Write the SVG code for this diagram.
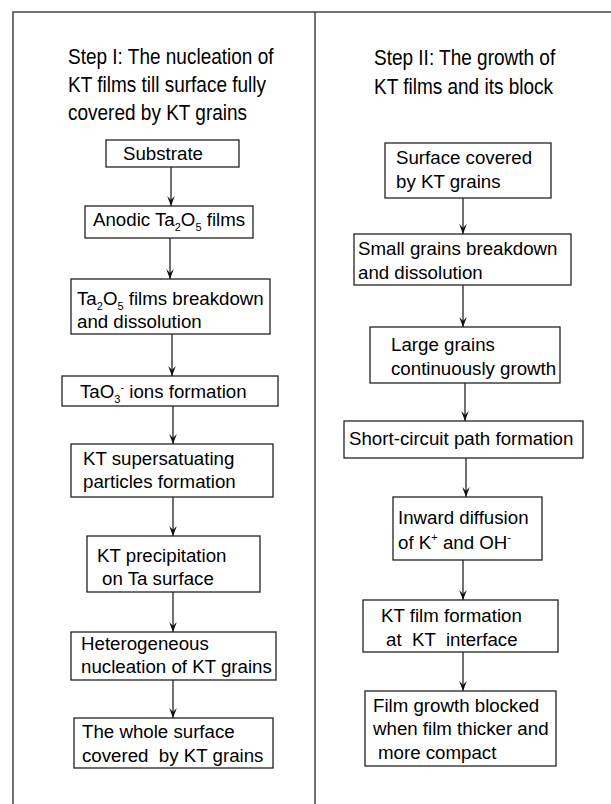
<svg xmlns="http://www.w3.org/2000/svg" width="611" height="804" viewBox="0 0 611 804">
<defs>
<style>
text{font-family:"Liberation Sans",Arial,sans-serif;fill:#000;white-space:pre}
.t{font-size:19px}
.b{font-size:18.7px}
.s{font-size:11px}
rect{fill:#fff;stroke:#222;stroke-width:1.3}
.frame{stroke:#444;stroke-width:1.5;fill:none}
.c line{stroke:#111;stroke-width:1.2}
</style>
<marker id="ah" viewBox="-11 -5 12 10" markerWidth="12" markerHeight="10" refX="0" refY="0" orient="auto" markerUnits="userSpaceOnUse">
<path d="M0,0 L-10,-3.8 L-6,0 L-10,3.8 Z" fill="#111"/>
</marker>
</defs>
<rect width="611" height="804" style="fill:#fff;stroke:none"/>
<g id="frame">
<path class="frame" d="M13,804 V12 H611 M315,12 V804"/>
</g>
<g id="title1">
<text class="t" transform="translate(68,64) scale(1,1.14)">Step I: The nucleation of</text>
<text class="t" transform="translate(68,92) scale(1,1.14)">KT films till surface fully</text>
<text class="t" transform="translate(68,120) scale(1,1.14)">covered by KT grains</text>
</g>
<g id="title2">
<text class="t" transform="translate(374,65) scale(1,1.14)">Step II: The growth of</text>
<text class="t" transform="translate(374,94) scale(1,1.14)">KT films and its block</text>
</g>
<g class="c" id="connectors">
<line x1="171" y1="167" x2="171" y2="206" marker-end="url(#ah)"/>
<line x1="170" y1="238" x2="170" y2="279" marker-end="url(#ah)"/>
<line x1="172" y1="334" x2="172" y2="376" marker-end="url(#ah)"/>
<line x1="173" y1="406" x2="173" y2="444" marker-end="url(#ah)"/>
<line x1="173" y1="497" x2="173" y2="536" marker-end="url(#ah)"/>
<line x1="173" y1="592" x2="173" y2="632" marker-end="url(#ah)"/>
<line x1="173" y1="680" x2="173" y2="718" marker-end="url(#ah)"/>
<line x1="463" y1="198" x2="463" y2="234" marker-end="url(#ah)"/>
<line x1="463" y1="285" x2="463" y2="327" marker-end="url(#ah)"/>
<line x1="465" y1="383" x2="465" y2="421" marker-end="url(#ah)"/>
<line x1="466" y1="458" x2="466" y2="497" marker-end="url(#ah)"/>
<line x1="463" y1="560" x2="463" y2="600" marker-end="url(#ah)"/>
<line x1="463" y1="652" x2="463" y2="691" marker-end="url(#ah)"/>
</g>
<g id="n1">
<rect x="106" y="140" width="133" height="27"/>
<text class="b" x="123" y="160">Substrate</text>
</g>
<g id="n2">
<rect x="85" y="206" width="168" height="32"/>
<text class="b" x="93" y="226">Anodic Ta<tspan class="s" dy="5">2</tspan><tspan dy="-5">O</tspan><tspan class="s" dy="5">5</tspan><tspan dy="-5"> films</tspan></text>
</g>
<g id="n3">
<rect x="71" y="279" width="199" height="55"/>
<text class="b" x="77" y="305">Ta<tspan class="s" dy="5">2</tspan><tspan dy="-5">O</tspan><tspan class="s" dy="5">5</tspan><tspan dy="-5"> films breakdown</tspan></text>
<text class="b" x="77" y="328">and dissolution</text>
</g>
<g id="n4">
<rect x="62" y="376" width="216" height="30"/>
<text class="b" x="80" y="398">TaO<tspan class="s" dy="5">3</tspan><tspan class="s" dy="-12">-</tspan><tspan dy="7"> ions formation</tspan></text>
</g>
<g id="n5">
<rect x="71" y="444" width="202" height="53"/>
<text class="b" x="83" y="465">KT supersatuating</text>
<text class="b" x="83" y="488">particles formation</text>
</g>
<g id="n6">
<rect x="87" y="536" width="173" height="56"/>
<text class="b" x="97" y="562">KT precipitation</text>
<text class="b" x="102" y="585">on Ta surface</text>
</g>
<g id="n7">
<rect x="71" y="632" width="205" height="48"/>
<text class="b" x="81" y="650">Heterogeneous</text>
<text class="b" x="81" y="673">nucleation of KT grains</text>
</g>
<g id="n8">
<rect x="74" y="718" width="199" height="50"/>
<text class="b" x="82" y="738">The whole surface</text>
<text class="b" x="82" y="762">covered  by KT grains</text>
</g>
<g id="m1">
<rect x="385" y="143" width="166" height="55"/>
<text class="b" x="396" y="164">Surface covered</text>
<text class="b" x="396" y="188">by KT grains</text>
</g>
<g id="m2">
<rect x="354" y="234" width="217" height="51"/>
<text class="b" x="358" y="255">Small grains breakdown</text>
<text class="b" x="358" y="279">and dissolution</text>
</g>
<g id="m3">
<rect x="370" y="327" width="190" height="56"/>
<text class="b" x="391" y="351">Large grains</text>
<text class="b" x="391" y="375">continuously growth</text>
</g>
<g id="m4">
<rect x="344" y="421" width="239" height="37"/>
<text class="b" x="349" y="445">Short-circuit path formation</text>
</g>
<g id="m5">
<rect x="393" y="497" width="149" height="63"/>
<text class="b" x="398" y="524">Inward diffusion</text>
<text class="b" x="398" y="549">of K<tspan class="s" dy="-8">+</tspan><tspan dy="8"> and OH</tspan><tspan class="s" dy="-8">-</tspan></text>
</g>
<g id="m6">
<rect x="363" y="600" width="195" height="52"/>
<text class="b" x="381" y="622">KT film formation</text>
<text class="b" x="386" y="646">at  KT  interface</text>
</g>
<g id="m7">
<rect x="365" y="691" width="191" height="75"/>
<text class="b" x="373" y="712">Film growth blocked</text>
<text class="b" x="373" y="735">when film thicker and</text>
<text class="b" x="378" y="759">more compact</text>
</g>
</svg>
